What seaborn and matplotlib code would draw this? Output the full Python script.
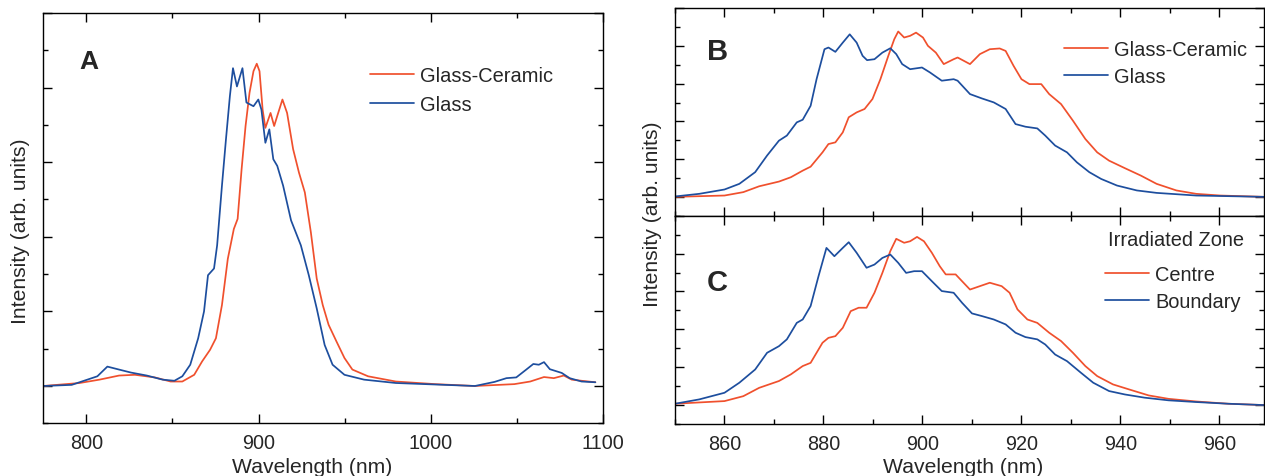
import matplotlib
matplotlib.use("Agg")
import matplotlib.pyplot as plt
from matplotlib.ticker import MultipleLocator, NullFormatter
import seaborn as sns

# ---- data (intensity in arb. units, baseline = 0) ----
# Panel A : full range, glass vs glass-ceramic
wl_a_glass = [775, 791.5, 806.4, 812.2, 819.0, 825.9, 835.1, 844.3, 851.1, 855.7, 860.3, 864.9,
              868.3, 870.6, 874.1, 875.9, 878.7, 881.0, 883.3, 885.1, 887.4, 890.6, 892.9, 897.0,
              899.8, 901.6, 903.9, 906.2, 908.5, 910.8, 914.2, 918.8, 924.5, 929.1, 933.7, 938.3,
              942.9, 949.8, 961.2, 979.6, 1002.5, 1025.5, 1036.9, 1043.8, 1049.5, 1055.3, 1059.4,
              1062.6, 1065.6, 1069.0, 1075.9, 1080.5, 1087.4, 1095.4]
int_a_glass = [0.00, 0.03, 0.26, 0.52, 0.44, 0.36, 0.28, 0.17, 0.14, 0.26, 0.57, 1.28,
               2.00, 2.97, 3.15, 3.77, 5.37, 6.60, 7.77, 8.52, 8.03, 8.52, 7.60, 7.50,
               7.68, 7.41, 6.52, 6.88, 6.08, 5.90, 5.37, 4.44, 3.77, 2.97, 2.08, 1.10,
               0.57, 0.30, 0.17, 0.08, 0.04, 0.00, 0.11, 0.21, 0.23, 0.44, 0.59,
               0.57, 0.64, 0.45, 0.35, 0.21, 0.12, 0.10]

wl_a_gc = [775, 796.1, 807.6, 819.0, 828.2, 839.7, 848.9, 855.7, 862.6, 867.2, 871.8, 875.2,
           878.7, 882.1, 885.6, 887.8, 890.1, 892.4, 894.7, 897.0, 898.9, 900.5, 902.3, 903.9,
           906.9, 909.0, 910.8, 913.8, 916.5, 920.0, 923.4, 926.8, 930.3, 933.7, 937.2, 940.6,
           945.2, 949.8, 954.4, 963.5, 979.6, 1002.5, 1025.5, 1048.4, 1057.6, 1065.6, 1071.3,
           1077.1, 1081.7, 1087.4, 1095.4]
int_a_gc = [0.00, 0.08, 0.17, 0.28, 0.30, 0.23, 0.12, 0.12, 0.30, 0.66, 0.97, 1.28,
            2.17, 3.41, 4.21, 4.48, 5.81, 6.97, 7.86, 8.44, 8.64, 8.44, 7.41, 6.92,
            7.32, 6.97, 7.24, 7.68, 7.32, 6.35, 5.72, 5.19, 4.12, 2.88, 2.17, 1.64,
            1.19, 0.75, 0.44, 0.26, 0.12, 0.05, 0.00, 0.05, 0.12, 0.24, 0.21,
            0.28, 0.17, 0.14, 0.10]

# Panel B : zoom, glass vs glass-ceramic
wl_b_glass = [850, 854.9, 860, 863.0, 866.2, 868.6, 871.0, 872.6, 874.6, 875.8, 877.4, 878.6,
              880.2, 881.0, 882.4, 883.9, 885.3, 886.7, 887.9, 888.8, 890.3, 891.9, 893.5, 894.7,
              895.9, 897.5, 899.9, 901.5, 903.9, 906.3, 907.1, 909.6, 912.0, 914.4, 916.8, 918.8,
              920.8, 923.2, 924.8, 926.8, 929.2, 931.2, 933.7, 936.1, 939.3, 943.3, 947.3, 955.3, 969]
int_b_glass = [0.02, 0.16, 0.39, 0.69, 1.31, 2.19, 2.98, 3.25, 3.95, 4.09, 4.83, 6.24,
               7.83, 7.92, 7.69, 8.18, 8.62, 8.18, 7.48, 7.25, 7.30, 7.65, 7.88, 7.57,
               7.04, 6.77, 6.86, 6.60, 6.16, 6.24, 6.16, 5.45, 5.22, 5.01, 4.66, 3.86,
               3.72, 3.63, 3.25, 2.72, 2.36, 1.83, 1.31, 0.95, 0.60, 0.34, 0.21, 0.07, 0.00]

wl_b_gc = [850, 860, 863.8, 867.0, 871.0, 873.4, 875.8, 877.4, 879.8, 881.0, 882.4, 883.9,
           885.1, 886.7, 888.3, 889.9, 891.5, 893.1, 894.3, 895.1, 896.3, 897.5, 898.7, 900.1,
           901.1, 902.7, 904.3, 906.3, 907.1, 909.6, 911.6, 913.6, 915.6, 916.8, 918.4, 920.0,
           921.6, 924.0, 925.6, 928.0, 930.4, 932.9, 935.3, 937.7, 940.9, 944.1, 947.3, 951.3,
           955.3, 960.2, 969]
int_b_gc = [0.00, 0.07, 0.25, 0.56, 0.81, 1.04, 1.39, 1.60, 2.36, 2.80, 2.89, 3.42,
            4.22, 4.48, 4.66, 5.19, 6.24, 7.48, 8.36, 8.77, 8.45, 8.54, 8.71, 8.45,
            8.01, 7.65, 7.04, 7.30, 7.39, 7.04, 7.57, 7.83, 7.87, 7.74, 6.95, 6.24,
            5.98, 5.98, 5.45, 4.92, 4.04, 3.07, 2.36, 1.92, 1.52, 1.13, 0.69, 0.34,
            0.16, 0.07, 0.00]

# Panel C : irradiated zone, centre vs boundary
wl_c_boundary = [850, 854.9, 860, 863.0, 866.2, 868.6, 871.0, 872.6, 874.6, 875.8, 877.4, 879.0,
                 880.6, 882.2, 883.9, 885.1, 886.7, 888.7, 890.3, 891.9, 893.5, 895.1, 896.7, 898.3,
                 899.9, 901.9, 903.9, 906.3, 908.0, 910.0, 912.0, 914.4, 916.8, 918.8, 920.8, 923.2,
                 924.8, 926.8, 929.2, 932.0, 934.5, 937.7, 940.9, 944.9, 949.7, 955.3, 961.8, 969]
int_c_boundary = [0.07, 0.30, 0.65, 1.18, 1.88, 2.76, 3.11, 3.47, 4.34, 4.52, 5.23, 6.81,
                  8.30, 7.86, 8.30, 8.60, 8.04, 7.25, 7.42, 7.77, 7.95, 7.51, 6.98, 7.07,
                  7.07, 6.54, 6.02, 5.93, 5.40, 4.84, 4.70, 4.52, 4.26, 3.82, 3.59, 3.47,
                  3.20, 2.67, 2.32, 1.71, 1.18, 0.74, 0.56, 0.39, 0.25, 0.16, 0.07, 0.00]

wl_c_centre = [850, 860, 863.8, 867.0, 871.0, 873.4, 875.8, 877.4, 879.8, 881.0, 882.4, 883.9,
               885.5, 887.1, 888.7, 890.3, 891.9, 893.5, 894.7, 896.3, 897.5, 898.9, 900.3, 901.9,
               903.5, 904.7, 906.7, 908.0, 909.6, 911.6, 913.6, 916.0, 917.6, 919.2, 921.2, 923.2,
               925.6, 928.0, 930.4, 932.9, 935.3, 938.5, 941.7, 945.7, 949.7, 955.3, 961.8, 969]
int_c_centre = [0.07, 0.21, 0.47, 0.91, 1.27, 1.62, 2.06, 2.23, 3.29, 3.55, 3.64, 4.08,
                4.96, 5.14, 5.14, 5.93, 6.98, 8.13, 8.78, 8.57, 8.65, 8.88, 8.65, 8.04,
                7.33, 6.90, 6.90, 6.54, 6.10, 6.28, 6.46, 6.28, 5.93, 5.05, 4.52, 4.34,
                3.82, 3.38, 2.76, 2.06, 1.53, 1.09, 0.83, 0.51, 0.33, 0.19, 0.07, 0.00]

RED = "#f0502d"
BLUE = "#1d4e9e"
LW = 1.25

sns.set_style("ticks")
plt.rcParams['font.family'] = ['Liberation Sans', 'DejaVu Sans']
plt.rcParams['axes.linewidth'] = 1.0

fig = plt.figure(figsize=(12.65, 4.77), dpi=100)
ax_a = fig.add_axes([0.0342, 0.1105, 0.4427, 0.8602])
ax_b = fig.add_axes([0.5336, 0.5457, 0.4656, 0.4348])
ax_c = fig.add_axes([0.5336, 0.1090, 0.4656, 0.4367])


def style_axis(ax, xmaj, xmin, show_xlabels=True):
    ax.set_ylim(-1, 10)
    ax.xaxis.set_major_locator(MultipleLocator(xmaj))
    ax.xaxis.set_minor_locator(MultipleLocator(xmin))
    ax.yaxis.set_major_locator(MultipleLocator(2))
    ax.yaxis.set_minor_locator(MultipleLocator(1))
    ax.yaxis.set_major_formatter(NullFormatter())
    ax.tick_params(which='both', direction='in', top=True, right=True, color='black', width=1.0)
    ax.tick_params(which='major', length=6.5, labelsize=14.3, pad=7)
    ax.tick_params(which='minor', length=3.5)
    if not show_xlabels:
        ax.xaxis.set_major_formatter(NullFormatter())
    for s in ax.spines.values():
        s.set_color('black')
    ax.set_ylabel('')
    ax.set_xlabel('')


leg_kw = dict(loc='upper left', frameon=False, fontsize=14.4, handlelength=2.2,
              handletextpad=0.3, borderpad=0, borderaxespad=0)

# Panel A
sns.lineplot(x=wl_a_gc, y=int_a_gc, ax=ax_a, color=RED, lw=LW, label='Glass-Ceramic')
sns.lineplot(x=wl_a_glass, y=int_a_glass, ax=ax_a, color=BLUE, lw=LW, label='Glass')
ax_a.set_xlim(775, 1100)
style_axis(ax_a, 100, 50)
ax_a.set_xlabel('Wavelength (nm)', fontsize=15.2)
ax_a.xaxis.set_label_coords(0.48, -0.083)
ax_a.set_ylabel('Intensity (arb. units)', fontsize=15.2)
ax_a.yaxis.set_label_coords(-0.024, 0.47)
ax_a.legend(bbox_to_anchor=(0.583, 0.87), labelspacing=0.5, **leg_kw)
ax_a.text(0.082, 0.882, 'A', transform=ax_a.transAxes, fontsize=19, fontweight='bold',
          ha='center', va='center')

# Panel B
sns.lineplot(x=wl_b_gc, y=int_b_gc, ax=ax_b, color=RED, lw=LW, label='Glass-Ceramic')
sns.lineplot(x=wl_b_glass, y=int_b_glass, ax=ax_b, color=BLUE, lw=LW, label='Glass')
ax_b.set_xlim(850, 969)
style_axis(ax_b, 20, 10, show_xlabels=False)
ax_b.legend(bbox_to_anchor=(0.660, 0.845), labelspacing=0.4, **leg_kw)
ax_b.text(0.072, 0.795, 'B', transform=ax_b.transAxes, fontsize=21, fontweight='bold',
          ha='center', va='center')

# Panel C
sns.lineplot(x=wl_c_centre, y=int_c_centre, ax=ax_c, color=RED, lw=LW, label='Centre')
sns.lineplot(x=wl_c_boundary, y=int_c_boundary, ax=ax_c, color=BLUE, lw=LW, label='Boundary')
ax_c.set_xlim(850, 969)
style_axis(ax_c, 20, 10)
ax_c.set_xlabel('Wavelength (nm)', fontsize=15.2)
ax_c.xaxis.set_label_coords(0.49, -0.16)
ax_c.legend(bbox_to_anchor=(0.730, 0.765), labelspacing=0.4, **leg_kw)
ax_c.text(0.736, 0.885, 'Irradiated Zone', transform=ax_c.transAxes, fontsize=14.4,
          ha='left', va='center')
ax_c.text(0.072, 0.68, 'C', transform=ax_c.transAxes, fontsize=21, fontweight='bold',
          ha='center', va='center')

fig.text(652 / 1265, 1 - 214 / 477, 'Intensity (arb. units)', rotation=90, fontsize=15.2,
         ha='center', va='center')

fig.savefig('out.png', dpi=100)
